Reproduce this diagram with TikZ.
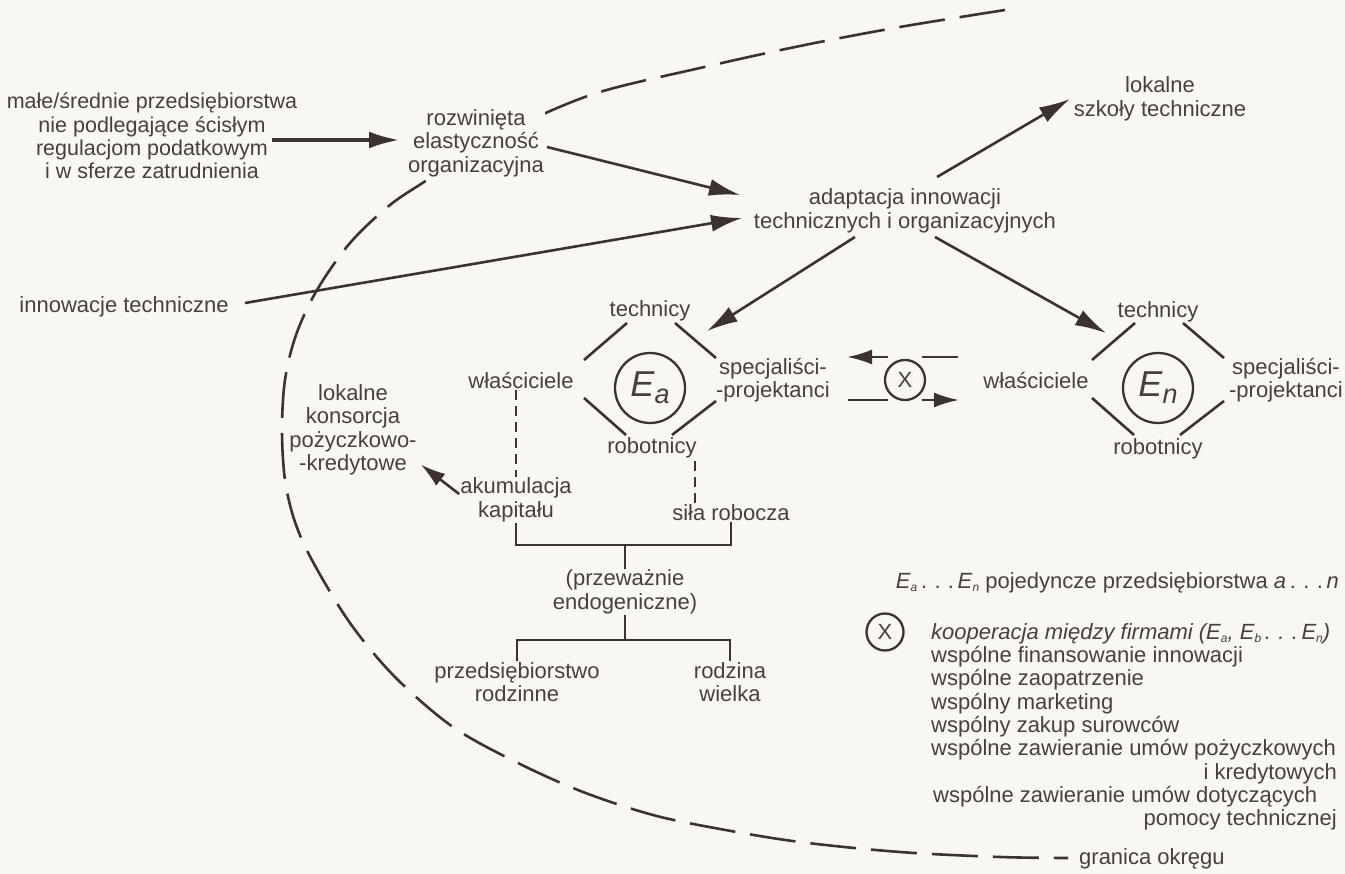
\documentclass[tikz,border=0pt]{standalone}
\usepackage{fontspec}
\setmainfont{Liberation Sans}
\usetikzlibrary{arrows.meta,calc}
\definecolor{bgc}{RGB}{248,247,241}
\definecolor{txc}{RGB}{72,64,64}
\definecolor{lnc}{RGB}{60,50,50}
\newcommand\sbs[1]{\raisebox{-3pt}{\fontsize{12}{12}\selectfont #1}}
\begin{document}
\begin{tikzpicture}[x=1pt,y=-1pt,
  txt/.style={font=\fontsize{22}{23.4}\selectfont, text=txc, align=center, inner sep=1pt},
  bgtxt/.style={txt, fill=bgc},
  ln/.style={draw=lnc, line width=2.6pt},
  brk/.style={draw=lnc, line width=2.8pt},
  arr/.style={ln, -{Latex[length=31pt,width=17pt]}},
  sarr/.style={ln, -{Latex[length=25pt,width=15pt]}},
  dsh/.style={draw=lnc, line width=2.4pt, dash pattern=on 10pt off 6pt},
  bnd/.style={draw=lnc, line width=2.6pt, dash pattern=on 46pt off 15pt},
  ring/.style={circle, draw=lnc, line width=2.3pt, inner sep=0pt, text=txc}
]
\fill[bgc] (0,0) rectangle (1345,874);
\useasboundingbox (0,0) rectangle (1345,874);

% boundary of the district
\draw[bnd] plot[smooth, tension=0.55] coordinates {
 (1005,10) (900,27) (800,46) (700,68) (600,92) (530,120) (470,150) (427,180)
 (390,205) (350,243) (317,290) (296,335) (285,380) (282,430) (285,480) (295,522)
 (313,562) (350,623) (395,677) (453,727) (518,763) (583,792) (653,815)
 (720,829) (800,842) (900,852) (1000,857) (1068,858)};

% text nodes
\node[txt, font=\fontsize{21.5}{23.4}\selectfont] (male) at (152,136) {małe/średnie przedsiębiorstwa\\nie podlegające ścisłym\\regulacjom podatkowym\\i w sferze zatrudnienia};
\node[bgtxt] (rozw) at (476,143) {rozwinięta\\elastyczność\\organizacyjna};
\node[txt] (adapt) at (905,211) {adaptacja innowacji\\technicznych i organizacyjnych};
\node[txt] (szkoly) at (1160,99) {lokalne\\szkoły techniczne};
\node[txt] (innow) at (124,307) {innowacje techniczne};

\node[ring, minimum size=70pt] (Ea) at (650,388) {{\fontsize{36}{36}\selectfont\itshape E}\raisebox{-7pt}{\fontsize{27}{27}\selectfont\itshape a}};
\node[txt] (techa) at (650,311) {technicy};
\node[txt] (wla) at (521,381) {właściciele};
\node[txt] (speca) at (773,380) {specjaliści-\\-projektanci};
\node[txt] (roba) at (652,448) {robotnicy};

\node[ring, minimum size=40pt, font=\fontsize{22}{22}\selectfont] (X) at (905,380) {X};

\node[ring, minimum size=70pt] (En) at (1158,388) {{\fontsize{36}{36}\selectfont\itshape E}\raisebox{-7pt}{\fontsize{27}{27}\selectfont\itshape n}};
\node[txt] (techn) at (1158,312) {technicy};
\node[txt] (wln) at (1036,381) {właściciele};
\node[txt] (specn) at (1286,380) {specjaliści-\\-projektanci};
\node[txt] (robn) at (1158,449) {robotnicy};

\node[txt] (kons) at (353,430) {lokalne\\konsorcja\\pożyczkowo-\\-kredytowe};
\node[txt] (akum) at (516,500) {akumulacja\\kapitału};
\node[txt] (sila) at (731,513) {siła robocza};
\node[txt] (endo) at (625,592) {(przeważnie\\endogeniczne)};
\node[txt] (przed) at (517,682) {przedsiębiorstwo\\rodzinne};
\node[txt] (rodz) at (730,682) {rodzina\\wielka};

\node[txt, anchor=west] (gran) at (1078,859) {granica okręgu};

% legend
\node[txt, anchor=east] (leg1) at (1340,583) {\textit{E}\sbs{\textit{a}}\,.\,\,.\,\,.\,\textit{E}\sbs{\textit{n}} pojedyncze przedsiębiorstwa \textit{a}\,.\,\,.\,\,.\,\textit{n}};
\node[ring, minimum size=37pt, font=\fontsize{22}{22}\selectfont] (Xl) at (885,632) {X};
\node[txt, anchor=west] (k1) at (930,634) {\itshape kooperacja między firmami (E\sbs{a}, E\sbs{b}\,.\,\,.\,\,.\,E\sbs{n})};
\node[txt, anchor=west] (k2) at (930,657) {wspólne finansowanie innowacji};
\node[txt, anchor=west] (k3) at (930,680) {wspólne zaopatrzenie};
\node[txt, anchor=west] (k4) at (930,704) {wspólny marketing};
\node[txt, anchor=west] (k5) at (930,727) {wspólny zakup surowców};
\node[txt, anchor=west] (k6) at (930,750) {wspólne zawieranie umów pożyczkowych};
\node[txt, anchor=east] (k7) at (1338,774) {i kredytowych};
\node[txt, anchor=west] (k8) at (932,797) {wspólne zawieranie umów dotyczących};
\node[txt, anchor=east] (k9) at (1338,820) {pomocy technicznej};

% arrows
\draw[arr, line width=4.2pt] ($(male)+(120,4)$) -- ($(rozw)+(-76,-3)$);
\draw[arr] ($(rozw)+(71,4)$) -- ($(adapt)+(-165,-16)$);
\draw[arr] ($(innow)+(121,-4)$) -- ($(adapt)+(-163,7)$);
\draw[arr] ($(adapt)+(32,-34)$) -- ($(szkoly)+(-90,0)$);
\draw[arr] ($(adapt)+(-50,26)$) -- ($(Ea)+(57,-57)$);
\draw[arr] ($(adapt)+(30,26)$) -- ($(En)+(-52,-55)$);

% diamonds
\foreach \e in {Ea,En}{
  \draw[ln] ($(\e)+(-66,-28)$) -- ($(\e)+(-23,-65)$);
  \draw[ln] ($(\e)+(25,-65)$) -- ($(\e)+(66,-30)$);
  \draw[ln] ($(\e)+(-66,10)$) -- ($(\e)+(-24,47)$);
  \draw[ln] ($(\e)+(22,47)$) -- ($(\e)+(66,13)$);
}

% cooperation arrows
\draw[sarr] ($(X)+(-17,-23)$) -- ($(X)+(-58,-23)$);
\draw[ln] ($(X)+(17,-23)$) -- ($(X)+(53,-23)$);
\draw[ln] ($(X)+(-57,20)$) -- ($(X)+(-17,20)$);
\draw[sarr] ($(X)+(17,20)$) -- ($(X)+(54,20)$);

% dashed links
\draw[dsh] (akum.north |- wla.south) -- (akum.north);
\coordinate (rd) at ($(roba.south)+(43,2)$);
\draw[dsh] (rd) -- (rd |- sila.north);

% capital to consortia
\draw[sarr] ($(akum.west)+(0,-6)$) -- ($(kons.south east)+(3,-12)$);

% brackets
\coordinate (b1) at (625,545);
\coordinate (b2) at (625,640);
\draw[brk] (akum.south) |- (b1) -| (sila.south);
\draw[brk] (b1) -- (endo.north);
\draw[brk] (endo.south) -- (b2);
\draw[brk] (przed.north) |- (b2) -| (rodz.north);
\end{tikzpicture}
\end{document}
